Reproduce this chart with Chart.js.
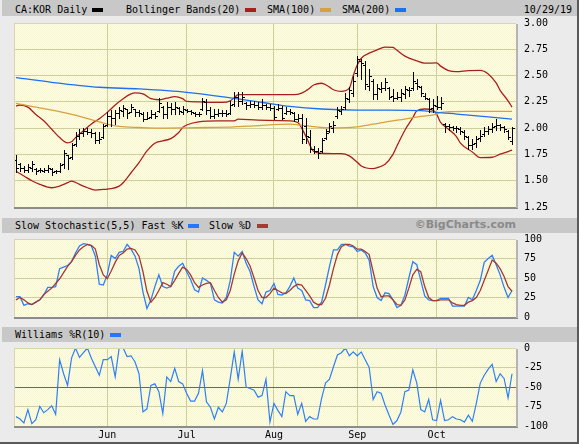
<!DOCTYPE html>
<html>
<head>
<meta charset="utf-8">
<script src="https://cdn.jsdelivr.net/npm/chart.js"></script>
<style>
body{margin:0;background:#ebebeb;width:579px;height:444px;overflow:hidden;position:relative;font-family:"DejaVu Sans Mono",monospace;font-size:10px;}
#frame{position:absolute;left:0;top:0;width:577px;height:442px;border-right:2px solid #5a5a5a;border-bottom:2px solid #5a5a5a;}
.band{position:absolute;left:2px;width:575px;background:#c8c8c8;}
.t{position:absolute;white-space:pre;line-height:12px;color:#000;}
.sw{position:absolute;width:11px;height:4px;}
canvas{position:absolute;left:0;top:0;}
</style>
</head>
<body>
<div id="frame"></div>
<div class="band" style="top:0;height:16px"></div>
<div class="band" style="top:218px;height:15px"></div>
<div class="band" style="top:327px;height:15px"></div>

<div class="t" style="left:15px;top:4px">CA:KOR Daily</div>
<div class="sw" style="left:92px;top:8px;background:#000"></div>
<div class="t" style="left:126px;top:4px">Bollinger Bands(20)</div>
<div class="sw" style="left:245px;top:8px;background:#a8201e"></div>
<div class="t" style="left:267px;top:4px">SMA(100)</div>
<div class="sw" style="left:320px;top:8px;background:#d9a040"></div>
<div class="t" style="left:342px;top:4px">SMA(200)</div>
<div class="sw" style="left:395px;top:8px;background:#1f6ff2"></div>
<div class="t" style="right:7px;top:4px">10/29/19</div>

<div class="t" style="left:15px;top:220px">Slow Stochastic(5,5) Fast %K</div>
<div class="sw" style="left:188px;top:224px;background:#1f78ff"></div>
<div class="t" style="left:209px;top:220px">Slow %D</div>
<div class="sw" style="left:257px;top:224px;background:#a33b33"></div>
<div class="t" style="right:63px;top:219px;font-family:'DejaVu Sans',sans-serif;font-weight:bold;font-size:11px;color:#8a8a8a">©BigCharts.com</div>

<div class="t" style="left:15px;top:329px">Williams %R(10)</div>
<div class="sw" style="left:110px;top:333px;background:#1f78ff"></div>

<canvas id="c1" width="579" height="444"></canvas>
<canvas id="c2" width="579" height="444"></canvas>
<canvas id="c3" width="579" height="444"></canvas>

<script>
// trading days 30 Apr .. 29 Oct 2019, index 0..125
var monthIdx = [23, 43, 65, 86, 106];
var monthLabels = ['Jun', 'Jul', 'Aug', 'Sep', 'Oct'];

var high = [
1.74,1.67,1.64,1.66,1.69,1.62,1.62,1.62,1.65,1.62,
1.60,1.67,1.79,1.74,1.86,1.96,1.99,2.00,2.00,1.99,
1.96,1.96,2.04,2.15,2.17,2.17,2.20,2.22,2.18,2.23,
2.18,2.17,2.15,2.15,2.17,2.15,2.29,2.21,2.25,2.24,
2.25,2.20,2.21,2.18,2.17,2.15,2.15,2.29,2.28,2.20,
2.18,2.18,2.17,2.17,2.26,2.34,2.34,2.34,2.25,2.26,
2.26,2.25,2.28,2.23,2.23,2.21,2.23,2.21,2.20,2.18,
2.15,2.13,2.13,2.10,1.98,1.83,1.81,1.91,1.99,2.05,
2.07,2.20,2.21,2.33,2.39,2.50,2.69,2.66,2.64,2.56,
2.47,2.42,2.44,2.48,2.39,2.37,2.34,2.37,2.40,2.39,
2.53,2.47,2.40,2.33,2.29,2.28,2.31,2.30,2.05,2.04,
2.02,2.02,2.01,1.98,1.93,1.90,1.93,1.98,2.01,2.02,
2.05,2.09,2.04,2.02,1.98,2.01];
var low = [
1.58,1.59,1.58,1.58,1.59,1.56,1.58,1.58,1.58,1.55,
1.57,1.58,1.62,1.61,1.71,1.83,1.90,1.93,1.94,1.92,
1.86,1.86,1.91,2.02,2.02,2.04,2.10,2.12,2.10,2.15,
2.12,2.12,2.07,2.09,2.10,2.10,2.15,2.10,2.10,2.13,
2.13,2.13,2.13,2.15,2.13,2.12,2.12,2.17,2.13,2.10,
2.10,2.12,2.12,2.12,2.13,2.21,2.21,2.23,2.18,2.20,
2.20,2.18,2.18,2.18,2.17,2.09,2.17,2.09,2.13,2.13,
2.07,2.07,1.86,1.86,1.77,1.76,1.72,1.77,1.90,1.96,
1.96,2.10,2.13,2.18,2.25,2.31,2.50,2.47,2.37,2.36,
2.28,2.28,2.34,2.36,2.28,2.26,2.28,2.26,2.29,2.31,
2.36,2.37,2.31,2.28,2.15,2.15,2.18,2.18,1.96,1.98,
1.98,1.96,1.94,1.90,1.80,1.80,1.82,1.88,1.93,1.94,
1.96,1.98,1.98,1.96,1.90,1.85];
var open = [
1.70,1.66,1.62,1.60,1.62,1.61,1.60,1.59,1.60,1.61,
1.59,1.59,1.66,1.74,1.73,1.85,1.93,1.95,1.97,1.96,
1.95,1.89,1.92,2.03,2.12,2.10,2.14,2.16,2.18,2.15,
2.18,2.15,2.13,2.09,2.11,2.13,2.16,2.20,2.13,2.20,
2.18,2.19,2.15,2.17,2.16,2.14,2.13,2.18,2.25,2.17,
2.12,2.13,2.14,2.14,2.14,2.23,2.30,2.26,2.24,2.22,
2.23,2.22,2.20,2.22,2.20,2.19,2.18,2.19,2.14,2.16,
2.14,2.09,2.10,2.02,1.92,1.80,1.78,1.78,1.91,1.97,
2.00,2.12,2.16,2.20,2.28,2.33,2.52,2.64,2.60,2.40,
2.45,2.32,2.37,2.38,2.38,2.31,2.29,2.30,2.32,2.36,
2.38,2.43,2.39,2.31,2.28,2.19,2.21,2.20,2.04,2.02,
2.01,2.00,1.99,1.96,1.92,1.84,1.86,1.91,1.94,1.97,
1.99,2.02,2.03,2.01,1.97,1.88];
var close = [
1.62,1.62,1.60,1.63,1.66,1.59,1.60,1.60,1.62,1.58,
1.59,1.65,1.76,1.72,1.84,1.93,1.95,1.97,1.96,1.95,
1.89,1.90,2.02,2.12,2.10,2.14,2.17,2.19,2.14,2.20,
2.15,2.14,2.09,2.10,2.13,2.12,2.24,2.13,2.20,2.18,
2.20,2.16,2.18,2.16,2.15,2.13,2.13,2.26,2.17,2.12,
2.13,2.14,2.14,2.13,2.22,2.30,2.26,2.30,2.22,2.23,
2.22,2.20,2.22,2.20,2.19,2.11,2.19,2.10,2.16,2.15,
2.09,2.10,1.90,1.93,1.80,1.78,1.76,1.89,1.95,2.02,
2.03,2.17,2.18,2.29,2.36,2.45,2.66,2.62,2.42,2.50,
2.32,2.38,2.38,2.44,2.30,2.29,2.30,2.33,2.37,2.36,
2.45,2.40,2.33,2.29,2.18,2.22,2.20,2.24,2.02,2.01,
2.00,2.00,1.97,1.93,1.84,1.85,1.90,1.93,1.97,1.99,
2.01,2.03,2.01,1.99,1.92,2.00];

// [day, value]
var bbUpper = [[0,2.21],[1,2.22],[3,2.20],[5,2.13],[7,2.07],[9,1.99],[11,1.91],[13,1.86],[14,1.87],[15,1.91],
  [17,1.975],[19,2.04],[21,2.09],[23,2.15],[25,2.22],[27,2.28],[29,2.325],[30,2.335],[32,2.325],[34,2.28],
  [36,2.27],[38,2.285],[40,2.30],[42,2.28],[43,2.255],[46,2.25],[49,2.245],[52,2.245],[54,2.26],[55,2.29],
  [56,2.318],[62,2.318],[70,2.318],[72,2.334],[74,2.38],[75,2.41],[77,2.427],[79,2.39],[80,2.365],[82,2.35],
  [84,2.38],[85,2.50],[86,2.60],[87,2.665],[89,2.713],[91,2.745],[93,2.77],[95,2.768],[96,2.74],[98,2.685],
  [101,2.64],[103,2.618],[106,2.62],[107,2.59],[109,2.548],[111,2.538],[114,2.548],[117,2.55],[119,2.516],
  [121,2.43],[122,2.36],[124,2.26],[125,2.20]];
var bbLower = [[0,1.59],[2,1.545],[4,1.50],[6,1.465],[9,1.433],[11,1.449],[13,1.481],[14,1.497],[16,1.465],
  [18,1.433],[20,1.411],[22,1.417],[24,1.424],[26,1.449],[27,1.481],[29,1.576],[31,1.672],[33,1.783],[35,1.857],
  [37,1.879],[39,1.90],[41,1.959],[42,2.006],[43,2.03],[46,2.06],[51,2.07],[55,2.07],[56,2.086],[61,2.076],
  [69,2.07],[71,2.054],[73,1.927],[75,1.78],[77,1.761],[80,1.758],[82,1.758],[84,1.736],[86,1.675],[87,1.64],
  [90,1.615],[91,1.624],[93,1.656],[95,1.75],[96,1.83],[98,1.98],[100,2.10],[101,2.166],[103,2.182],[105,2.172],
  [106,2.134],[107,2.054],[109,1.99],[111,1.92],[112,1.857],[115,1.774],[117,1.72],[120,1.723],[122,1.752],[125,1.79]];
var sma100 = [[0,2.236],[4,2.207],[13,2.14],[21,2.06],[24,2.029],[26,2.016],[31,2.006],[36,2.0],[43,2.003],
  [48,2.006],[55,2.013],[60,2.022],[69,2.038],[71,2.032],[74,2.019],[77,2.006],[81,2.003],[86,2.013],[90,2.038],
  [94,2.064],[98,2.086],[102,2.111],[106,2.134],[107,2.15],[109,2.156],[114,2.159],[125,2.159]];
var sma200 = [[0,2.481],[9,2.436],[21,2.389],[31,2.373],[43,2.341],[55,2.283],[63,2.239],[69,2.207],[77,2.182],
  [86,2.172],[94,2.172],[102,2.166],[106,2.15],[111,2.134],[119,2.108],[125,2.086]];

var stochK = [
26,26,15,17,16,19,22,28,38,38, 39,62,64,66,71,82,91,94,93,91,
78,42,41,54,79,75,83,84,93,87, 78,62,32,11,22,39,54,39,37,39,
59,65,69,58,48,35,32,50,47,43, 22,19,18,25,47,83,78,84,69,58,
39,22,17,32,34,43,29,28,31,39, 50,37,34,22,21,12,12,19,41,65,
86,86,93,93,91,90,84,86,82,73, 39,25,21,31,30,22,12,15,28,50,
71,67,47,27,22,21,21,24,24,24, 14,14,14,14,25,22,34,47,70,75,
79,67,54,38,25,34];
var stochD = [
22,25,22,18,16,19,22,29,33,37, 43,49,57,65,71,79,86,90,93,92,
87,67,54,49,59,70,79,82,87,88, 86,78,58,33,19,25,34,44,42,39,
47,56,64,61,54,44,38,41,43,44, 34,25,19,22,34,55,72,82,75,65,
50,34,25,25,30,37,34,31,30,34, 39,42,41,34,27,19,16,16,24,41,
62,80,90,93,93,91,87,87,84,80, 58,37,26,27,27,22,16,15,22,37,
54,61,58,39,25,21,21,22,22,22, 18,16,15,15,19,21,25,34,47,60,
73,69,62,52,39,33];
var willR = [
-88,-91,-96,-79,-97,-92,-75,-83,-79,-74, -85,-15,-33,-48,-13,0,-12,-6,0,-13,
-24,-35,-15,-15,-11,-37,0,0,-11,-10, -18,-33,-82,-78,-48,-46,-56,-84,-37,-43,
-26,-43,-46,-58,-68,-68,-58,-29,-69,-76, -91,-76,-82,-71,-39,-5,-40,-4,-50,-52,
-54,-63,-61,-40,-95,-71,-80,-88,-56,-61, -61,-85,-71,-94,-88,-91,-91,-65,-45,-40,
-24,-9,-6,0,-10,-5,-10,-5,-15,-25, -66,-56,-58,-73,-86,-98,-93,-82,-56,-54,
-28,-45,-79,-82,-66,-92,-93,-67,-93,-92, -88,-91,-92,-95,-86,-94,-71,-45,-35,-27,
-21,-43,-33,-39,-64,-33];

var gridCol = '#cfcf9c';
var tickFont = {family: 'DejaVu Sans Mono', size: 10};

function pairs(a) { return a.map(function (p) { return {x: p[0], y: p[1]}; }); }
function daily(a) { return a.map(function (v, i) { return {x: i, y: v}; }); }

// dotted pale yellow plot background
var pat = document.createElement('canvas');
pat.width = 2; pat.height = 2;
var pc = pat.getContext('2d');
pc.fillStyle = '#ffffe6'; pc.fillRect(0, 0, 2, 2);
pc.fillStyle = '#f7f5cf'; pc.fillRect(0, 0, 1, 1); pc.fillRect(1, 1, 1, 1);

var plotBox = {
    id: 'plotBox',
    beforeDraw: function (chart) {
        var a = chart.chartArea, ctx = chart.ctx;
        ctx.save();
        ctx.fillStyle = ctx.createPattern(pat, 'repeat');
        ctx.fillRect(a.left, a.top, a.right - a.left, a.bottom - a.top);
        ctx.restore();
    },
    afterDraw: function (chart) {
        var a = chart.chartArea, ctx = chart.ctx;
        ctx.save();
        ctx.fillStyle = '#d6d6b0';
        ctx.fillRect(a.left, a.top, a.right - a.left, 1);
        ctx.fillRect(a.left, a.top, 1, a.bottom - a.top);
        ctx.fillStyle = '#8c8c8c';
        ctx.fillRect(a.left, a.bottom, a.right - a.left + 2, 2);
        ctx.fillStyle = '#b4b4b4';
        ctx.fillRect(a.right, a.top + 1, 2, a.bottom - a.top);
        ctx.restore();
    }
};

var ohlc = {
    id: 'ohlc',
    afterDatasetsDraw: function (chart) {
        var ctx = chart.ctx, x = chart.scales.x, y = chart.scales.y;
        ctx.save();
        ctx.fillStyle = '#000';
        for (var i = 0; i < close.length; i++) {
            var px = Math.round(x.getPixelForValue(i));
            var yh = Math.round(y.getPixelForValue(high[i]));
            var yl = Math.round(y.getPixelForValue(low[i]));
            var yo = Math.round(y.getPixelForValue(open[i]));
            var yc = Math.round(y.getPixelForValue(close[i]));
            ctx.fillRect(px, yh, 1, Math.max(yl - yh, 1) + 1);
            ctx.fillRect(px - 2, yo, 2, 1);
            ctx.fillRect(px + 1, yc, 2, 1);
        }
        ctx.restore();
    }
};

function xScale(showLabels) {
    return {
        type: 'linear', min: -0.5, max: 126,
        afterBuildTicks: function (s) { s.ticks = monthIdx.map(function (v) { return {value: v}; }); },
        afterFit: function (s) { s.height = showLabels ? 18 : 0; },
        ticks: {
            display: showLabels, autoSkip: false, maxRotation: 0, padding: 3,
            font: tickFont, color: '#000',
            callback: function (v, i) { return monthLabels[i]; }
        },
        grid: {color: gridCol, drawTicks: false, lineWidth: 1},
        border: {display: false}
    };
}

function yScale(min, max, step, fmt, gridFn) {
    return {
        position: 'right', min: min, max: max,
        afterFit: function (s) { s.width = 50; },
        ticks: {stepSize: step, padding: 8, font: tickFont, color: '#000', callback: fmt},
        grid: {color: gridFn || gridCol, drawTicks: false, lineWidth: 1},
        border: {display: false}
    };
}

function lineSet(data, color, w, smooth) {
    return {
        data: data, borderColor: color, borderWidth: w, pointRadius: 0,
        tension: smooth ? 0.4 : 0, cubicInterpolationMode: smooth ? 'monotone' : 'default', fill: false
    };
}

function baseOpts(top, bottom, xs, ys) {
    return {
        responsive: false, animation: false, events: [],
        layout: {padding: {left: 14, right: 13, top: top, bottom: bottom}},
        plugins: {legend: {display: false}, tooltip: {enabled: false}},
        scales: {x: xs, y: ys}
    };
}

new Chart(document.getElementById('c1'), {
    type: 'line',
    data: {datasets: [
        lineSet(pairs(sma200), '#1f6ff2', 1.3, true),
        lineSet(pairs(sma100), '#d9a040', 1.3, true),
        lineSet(pairs(bbUpper), '#a8201e', 1.3, true),
        lineSet(pairs(bbLower), '#a8201e', 1.3, true)
    ]},
    options: baseOpts(23, 444 - 207, xScale(false),
        yScale(1.25, 3, 0.25, function (v) { return v.toFixed(2); })),
    plugins: [plotBox, ohlc]
});

new Chart(document.getElementById('c2'), {
    type: 'line',
    data: {datasets: [
        lineSet(daily(stochD), '#a33b33', 1.3, false),
        lineSet(daily(stochK), '#2f80f5', 1.3, false)
    ]},
    options: baseOpts(239, 444 - 317, xScale(false),
        yScale(0, 100, 25, function (v) { return String(v); })),
    plugins: [plotBox]
});

new Chart(document.getElementById('c3'), {
    type: 'line',
    data: {datasets: [
        lineSet(daily(willR), '#2f80f5', 1.2, false)
    ]},
    options: baseOpts(348, 0, xScale(true),
        yScale(-100, 0, 25, function (v) { return String(v); },
            function (c) { return c.tick && c.tick.value === -50 ? '#2a6ef0' : gridCol; })),
    plugins: [plotBox]
});
</script>
</body>
</html>
